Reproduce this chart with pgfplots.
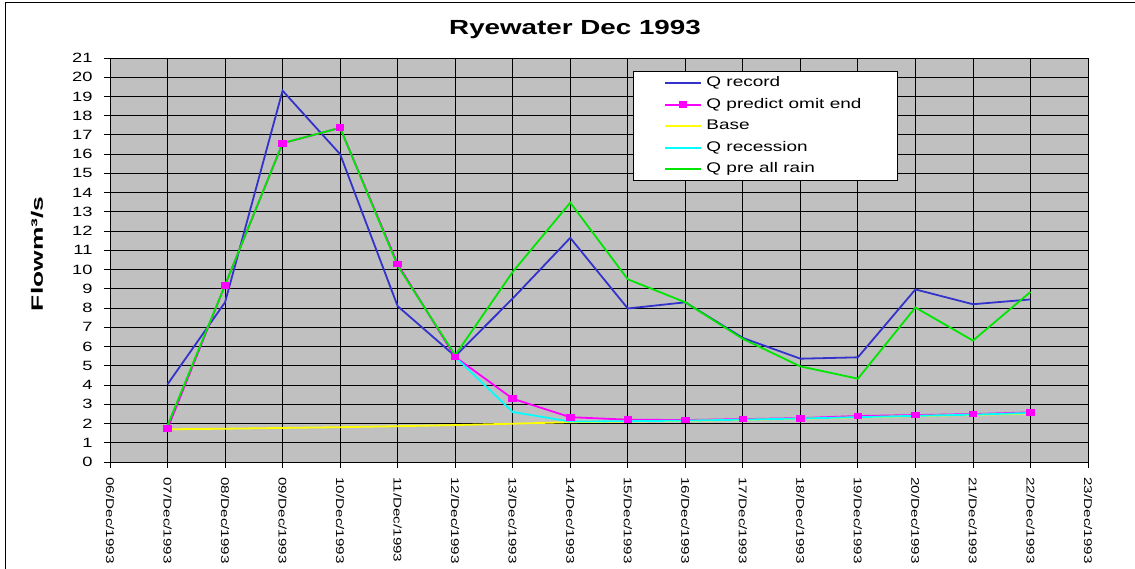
\documentclass[border=0pt]{standalone}
\usepackage{fontspec}
\setmainfont{Liberation Sans}[FakeStretch=1.36]
\usepackage{pgfplots}
\usepackage{pgfplotstable}
\pgfplotsset{compat=1.18}

\definecolor{qblue}{RGB}{51,51,204}
\definecolor{qmag}{RGB}{255,0,255}
\definecolor{qyel}{RGB}{255,255,0}
\definecolor{qcyan}{RGB}{0,255,255}
\definecolor{qgreen}{RGB}{0,230,0}
\definecolor{plotgray}{RGB}{192,192,192}

\pgfplotstableread{
x y
1 4.04
2 8.30
3 19.30
4 16.00
5 8.10
6 5.50
7 8.50
8 11.65
9 7.98
10 8.30
11 6.45
12 5.37
13 5.44
14 8.97
15 8.20
16 8.45
}\qrecord

\pgfplotstableread{
x y
1 1.73
2 9.19
3 16.57
4 17.37
5 10.29
6 5.46
7 3.29
8 2.33
9 2.20
10 2.18
11 2.23
12 2.28
13 2.39
14 2.44
15 2.49
16 2.58
}\qpredict

\pgfplotstableread{
x y
1 1.70
2 1.73
3 1.77
4 1.81
5 1.86
6 1.92
7 1.99
8 2.07
9 2.10
10 2.14
11 2.19
12 2.25
13 2.32
14 2.39
15 2.45
16 2.52
}\qbase

\pgfplotstableread{
x y
6 5.46
7 2.60
8 2.10
9 2.12
10 2.15
11 2.20
12 2.26
13 2.33
14 2.40
15 2.46
16 2.55
}\qrecess

\pgfplotstableread{
x y
1 1.90
2 9.20
3 16.57
4 17.37
5 10.20
6 5.55
7 9.88
8 13.48
9 9.50
10 8.30
11 6.40
12 4.97
13 4.33
14 8.03
15 6.31
16 8.84
}\qpre

\begin{document}
\begin{tikzpicture}[x=1bp,y=1bp]
\path[use as bounding box] (0,0) rectangle (1135,569);
\draw[black, line width=1.2bp] (5.5,0) -- (5.5,566.7) -- (1135,566.7);
\begin{axis}[
  at={(110bp,107bp)}, anchor=south west,
  width=978bp, height=404bp, scale only axis,
  xmin=0, xmax=17, ymin=0, ymax=21,
  xtick={0,...,17},
  xticklabels={06/Dec/1993,07/Dec/1993,08/Dec/1993,09/Dec/1993,10/Dec/1993,11/Dec/1993,12/Dec/1993,13/Dec/1993,14/Dec/1993,15/Dec/1993,16/Dec/1993,17/Dec/1993,18/Dec/1993,19/Dec/1993,20/Dec/1993,21/Dec/1993,22/Dec/1993,23/Dec/1993},
  ytick={0,...,21},
  /pgf/number format/assume math mode=true,
  grid=major,
  major grid style={black, line width=0.9bp},
  axis background/.style={fill=plotgray},
  axis line style={black, line width=0.9bp},
  tick style={black, line width=0.9bp},
  tick align=outside, tick pos=left, major tick length=6bp,
  tick label style={font=\fontsize{13.5}{16}\selectfont},
  yticklabel shift=8bp,
  xticklabel shift=6bp,
  xticklabel style={rotate=-90, anchor=west, font=\fontsize{11.2}{13}\selectfont},
  title={Ryewater Dec 1993},
  title style={at={(axis description cs:0.4755,1)}, anchor=base, yshift=17.3bp, font=\fontsize{20.5}{24}\selectfont\bfseries},
  ylabel={\scalebox{1.18}[1]{Flowm³/s}},
  ylabel style={at={(axis description cs:-0.0746,0.515)}, anchor=center, font=\fontsize{16.5}{18}\selectfont\bfseries},
  legend style={at={(axis description cs:0.5345,0.9678)}, anchor=north west, draw=black, fill=white, line width=0.8bp,
    inner xsep=31bp, inner ysep=1bp, font=\fontsize{14}{16}\selectfont,
    nodes={text height=10.5bp, text depth=3.5bp, inner ysep=3.75bp, inner xsep=4.5bp}},
  legend cell align=left,
  legend image code/.code={\draw[mark repeat=2,mark phase=2,#1] plot coordinates {(0bp,0bp) (18bp,0bp) (36bp,0bp)};},
]
\addplot[qblue, line width=1.8bp, no markers] table {\qrecord};
\addlegendentry{Q record}
\addplot[qmag, line width=1.8bp, mark=square*, mark size=2.5bp, mark options={solid, fill=qmag, draw=qmag, xscale=1.35}] table {\qpredict};
\addlegendentry{Q predict omit end}
\addplot[qyel, line width=1.8bp, no markers] table {\qbase};
\addlegendentry{Base}
\addplot[qcyan, line width=1.8bp, no markers] table {\qrecess};
\addlegendentry{Q recession}
\addplot[qgreen, line width=1.8bp, no markers] table {\qpre};
\addlegendentry{Q pre all rain}
\addplot[forget plot, only marks, qmag, mark=square*, mark size=2.5bp, mark options={solid, fill=qmag, draw=qmag, xscale=1.35}] table {\qpredict};
\end{axis}
\end{tikzpicture}
\end{document}
